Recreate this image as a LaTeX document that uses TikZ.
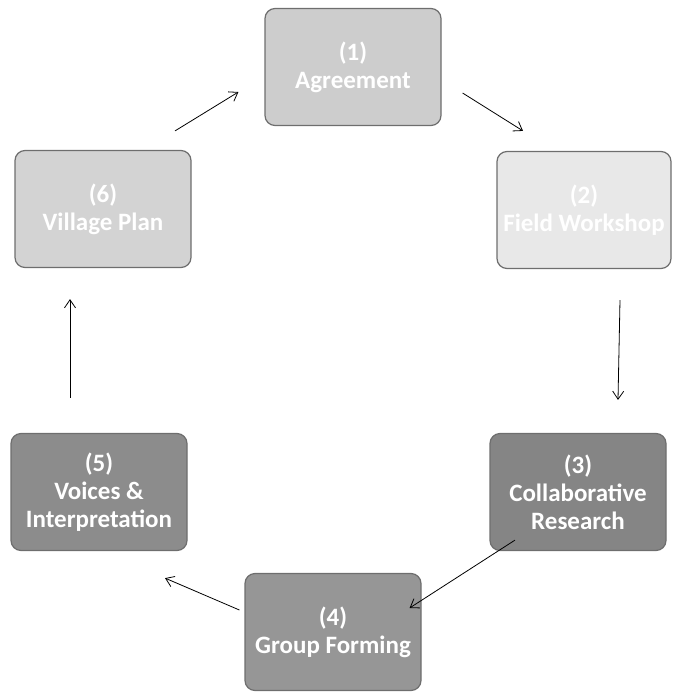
\documentclass[tikz,border=0pt]{standalone}
\usepackage{fontspec}
\setmainfont{Carlito}
\usetikzlibrary{arrows.meta}
\definecolor{boxA}{HTML}{CDCDCD}
\definecolor{boxB}{HTML}{E8E8E8}
\definecolor{boxF}{HTML}{D3D3D3}
\definecolor{boxC}{HTML}{858585}
\definecolor{boxE}{HTML}{8C8C8C}
\definecolor{boxD}{HTML}{969696}
\definecolor{edgegray}{HTML}{6E6E6E}
\begin{document}
\begin{tikzpicture}[x=1pt,y=-1pt,
  stagebox/.style={draw=edgegray, line width=1.2pt, rounded corners=10pt,
    minimum width=176pt, minimum height=117pt, align=center,
    text=white, font=\fontsize{25}{28}\selectfont\bfseries, inner sep=2pt},
  cyc/.style={draw=black, line width=0.8pt, -{Straight Barb[length=8pt,width=11pt]}}]
\useasboundingbox (0,0) rectangle (674,694);
\node[stagebox, fill=boxA] (n1) at (353,67) {(1)\\Agreement};
\node[stagebox, fill=boxB, minimum width=174pt] (n2) at (584,210) {(2)\\Field Workshop};
\node[stagebox, fill=boxC] (n3) at (578,492) {(3)\\Collaborative\\Research};
\node[stagebox, fill=boxD] (n4) at (333,632) {(4)\\Group Forming};
\node[stagebox, fill=boxE] (n5) at (99,492) {(5)\\Voices \&\\Interpretation};
\node[stagebox, fill=boxF] (n6) at (103,209) {(6)\\Village Plan};
\draw[cyc] ([shift={(21,26)}]n1.east) -- ([shift={(-61,-20)}]n2.north);
\draw[cyc] ([shift={(36,31)}]n2.south) -- ([shift={(40,-33)}]n3.north);
\draw[cyc] ([shift={(-63,-11)}]n3.south) -- ([shift={(-12,-24)}]n4.east);
\draw[cyc] ([shift={(-5,-22)}]n4.west) -- ([shift={(66,27)}]n5.south);
\draw[cyc] ([shift={(-29,-35)}]n5.north) -- ([shift={(-33,31)}]n6.south);
\draw[cyc] ([shift={(72,-19)}]n6.north) -- ([shift={(-26,25)}]n1.west);
\end{tikzpicture}
\end{document}
